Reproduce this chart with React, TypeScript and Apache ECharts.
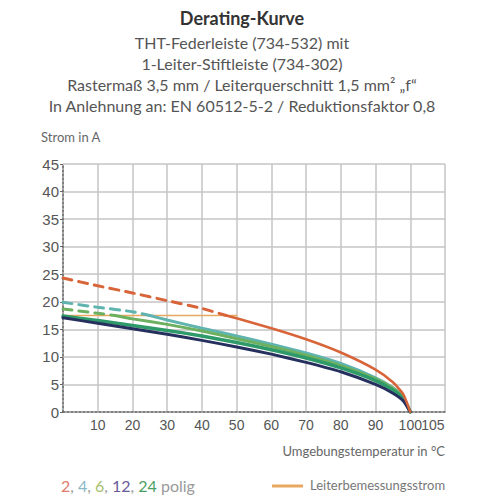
import React, { useEffect, useRef } from "react";
import * as echarts from "echarts";

const xTicks = [0, 10, 20, 30, 40, 50, 60, 70, 80, 90, 100, 110];
const yTicks = [0, 5, 10, 15, 20, 25, 30, 35, 40, 45];

// 2-polig (over Leiterbemessungsstrom = dashed)
const pol2Dashed = [[0, 24.3], [10, 22.9], [20, 21.6], [30, 20.2], [40, 18.8], [47, 17.5]];
const pol2Solid = [[47, 17.5], [50, 17.0], [60, 15.2], [70, 13.2], [80, 10.8], [90, 7.7], [95, 5.4], [98, 3.2], [100, 0]];
// 4-polig
const pol4Dashed = [[0, 19.9], [10, 19.0], [20, 18.2], [25, 17.5]];
const pol4Solid = [[25, 17.5], [30, 16.7], [40, 15.2], [50, 13.8], [60, 12.3], [70, 10.7], [80, 8.8], [90, 6.2], [95, 4.4], [98, 2.7], [100, 0]];
// 6-polig
const pol6Dashed = [[0, 18.7], [10, 17.9], [15, 17.5]];
const pol6Solid = [[15, 17.5], [20, 16.9], [30, 15.9], [40, 14.7], [50, 13.3], [60, 11.9], [70, 10.3], [80, 8.4], [90, 6.0], [95, 4.3], [98, 2.6], [100, 0]];
// 12-polig
const pol12 = [[0, 17.1], [10, 16.1], [20, 15.1], [30, 14.1], [40, 13.0], [50, 11.8], [60, 10.5], [70, 9.0], [80, 7.3], [90, 5.0], [95, 3.4], [98, 2.0], [100, 0]];
// 24-polig
const pol24 = [[0, 17.4], [10, 16.6], [20, 15.7], [30, 14.8], [40, 13.8], [50, 12.6], [60, 11.3], [70, 9.8], [80, 8.0], [90, 5.7], [95, 4.0], [98, 2.4], [100, 0]];
// Leiterbemessungsstrom
const ratedCurrent = [[0, 17.5], [50, 17.5]];

const C2 = "#d8643a";
const C4 = "#5fb4b0";
const C6 = "#6cb060";
const C12 = "#26305e";
const C24 = "#2e9a6a";
const CRATED = "#e8a860";

const FONT = "Lato, 'Open Sans', sans-serif";

export default function App() {
  const ref = useRef<HTMLDivElement>(null);
  useEffect(() => {
    if (!ref.current) return;
    const chart = echarts.init(ref.current, undefined, { renderer: "svg" });
    const line = (name: string, data: number[][], color: string, width: number, dashed = false, z = 2) => ({
      type: "line",
      name,
      data,
      symbol: "none",
      smooth: 0.2,
      z,
      lineStyle: { color, width, type: dashed ? [9, 7] : "solid", cap: "round" },
    });
    chart.setOption({
      animation: false,
      backgroundColor: "#ffffff",
      grid: { left: 63, top: 164, width: 382, height: 248, containLabel: false },
      xAxis: [
        {
          type: "value",
          min: 0,
          max: 110,
          interval: 10,
          axisLine: { show: true, lineStyle: { color: "#666", width: 1.5, type: [2, 2] } },
          axisTick: { show: false },
          splitLine: { show: true, lineStyle: { color: "#c4c4c4", width: 1.5 } },
          axisLabel: {
            color: "#555",
            fontFamily: "'Liberation Sans', Arial, sans-serif",
            fontSize: 14,
            margin: 6,
            formatter: (v: number) => (v === 0 || v > 100 ? "" : String(v)),
          },
        },
        {
          type: "value",
          min: 0,
          max: 110,
          interval: 0.5,
          position: "bottom",
          axisLine: { show: false },
          axisTick: { show: false },
          splitLine: { show: false },
          axisLabel: {
            color: "#555",
            fontFamily: "'Liberation Sans', Arial, sans-serif",
            fontSize: 14,
            margin: 6,
            formatter: (v: number) => (v === 106.5 ? "105" : ""),
          },
        },
      ],
      yAxis: {
        type: "value",
        min: 0,
        max: 45,
        interval: 5,
        axisLine: { show: true, lineStyle: { color: "#666", width: 1.5, type: [2, 2] } },
        axisTick: { show: true, length: 3, lineStyle: { color: "#666" } },
        splitLine: { show: true, lineStyle: { color: "#c4c4c4", width: 1.5 } },
        axisLabel: {
          color: "#555",
          fontFamily: "'Liberation Sans', Arial, sans-serif",
          fontSize: 15,
          margin: 4,
        },
      },
      series: [
        line("Leiterbemessungsstrom", ratedCurrent, CRATED, 1.5, false, 1),
        line("4-polig", pol4Dashed, C4, 3, true, 3),
        line("6-polig", pol6Dashed, C6, 3, true, 3),
        line("2-polig", pol2Dashed, C2, 3, true, 3),
        line("2-polig", pol2Solid, C2, 2.5, false, 3),
        line("4-polig", pol4Solid, C4, 3, false, 2),
        line("6-polig", pol6Solid, C6, 3, false, 2),
        line("24-polig", pol24, C24, 3.5, false, 2),
        line("12-polig", pol12, C12, 3, false, 2),
      ],
      graphic: [
        {
          type: "text",
          x: 242,
          y: 9,
          style: { text: "Derating-Kurve", font: `bold 18px ${FONT}`, fill: "#333", align: "center" },
        },
        {
          type: "text",
          x: 242,
          y: 32,
          style: {
            text:
              "THT-Federleiste (734-532) mit\n1-Leiter-Stiftleiste (734-302)\nRastermaß 3,5 mm / Leiterquerschnitt 1,5 mm² „f“\nIn Anlehnung an: EN 60512-5-2 / Reduktionsfaktor 0,8",
            font: `16px ${FONT}`,
            lineHeight: 21,
            fill: "#555",
            align: "center",
          },
        },
        {
          type: "text",
          x: 41,
          y: 130,
          style: { text: "Strom in A", font: `13px ${FONT}`, fill: "#666" },
        },
        {
          type: "text",
          x: 445,
          y: 444,
          style: { text: "Umgebungstemperatur in °C", font: `13px ${FONT}`, fill: "#666", align: "right" },
        },
        {
          type: "text",
          x: 61,
          y: 477,
          style: {
            text: "{a|2}{p|, }{b|4}{p|, }{c|6}{p|, }{d|12}{p|, }{e|24}{p| polig}",
            font: `16px ${FONT}`,
            rich: {
              a: { fill: "#e07a6a", font: `16px ${FONT}` },
              b: { fill: "#8ab8c8", font: `16px ${FONT}` },
              c: { fill: "#a8c070", font: `16px ${FONT}` },
              d: { fill: "#6a5a9a", font: `16px ${FONT}` },
              e: { fill: "#4aa060", font: `16px ${FONT}` },
              p: { fill: "#999", font: `16px ${FONT}` },
            },
          },
        },
        {
          type: "line",
          shape: { x1: 272, y1: 486, x2: 303, y2: 486 },
          style: { stroke: CRATED, lineWidth: 3 },
        },
        {
          type: "text",
          x: 310,
          y: 478,
          style: { text: "Leiterbemessungsstrom", font: `13px ${FONT}`, fill: "#777" },
        },
      ],
    });
    return () => chart.dispose();
  }, []);
  return (
    <div
      ref={ref}
      style={{ position: "fixed", left: 0, top: 0, width: 500, height: 500 }}
    />
  );
}
